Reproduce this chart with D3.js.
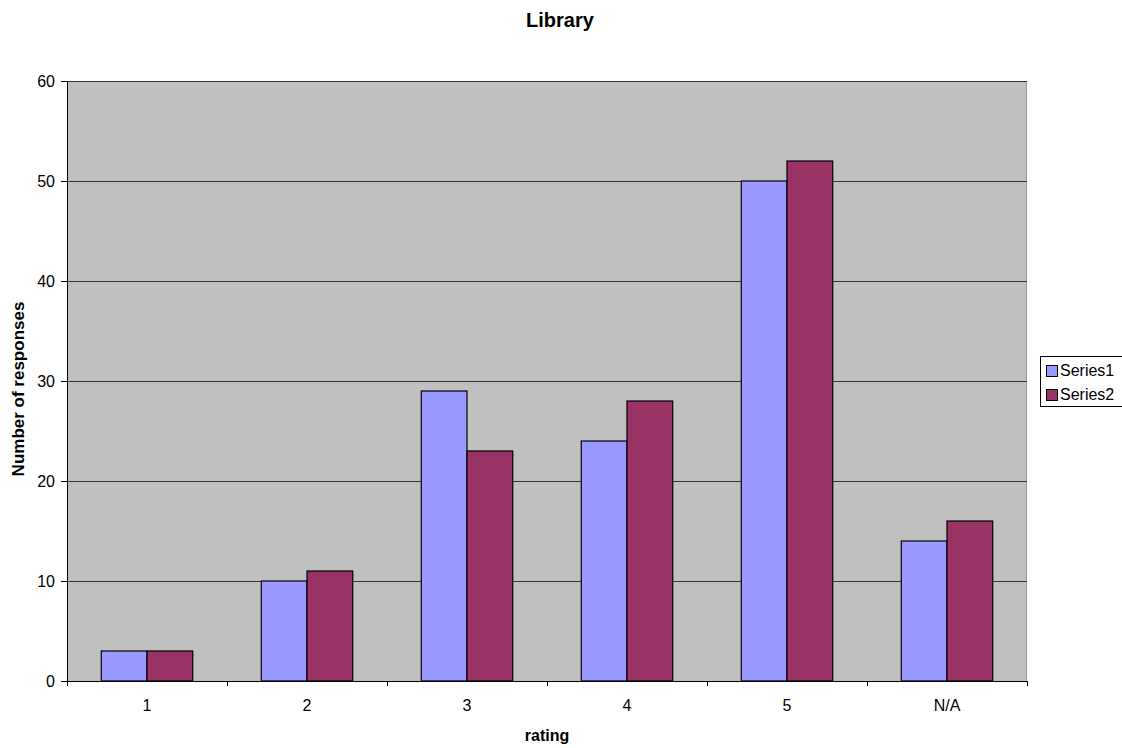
<!DOCTYPE html>
<html><head><meta charset="utf-8">
<script src="https://cdn.jsdelivr.net/npm/d3@7"></script>
<style>body{margin:0;background:#fff}svg{display:block;font-family:Arial,"Liberation Sans",sans-serif}</style>
</head><body><svg id="c" width="1122" height="748"></svg>
<script>
const categories = ["1","2","3","4","5","N/A"];
const seriesNames = ["Series1","Series2"];
const series1 = [3,10,29,24,50,14];
const series2 = [3,11,23,28,52,16];
const yTicks = [0,10,20,30,40,50,60];
const colors = ["#9999FF","#993366"];
const FONT = "Arial, 'Liberation Sans', sans-serif";

const svg = d3.select("#c");
const L=67, R=1027, T=81, B=681;
const x = d3.scaleBand().domain(categories).range([L,R]).paddingInner(0).paddingOuter(0);
const y = d3.scaleLinear().domain([0,60]).range([B,T]);
const bw = x.bandwidth()/3.5;
const xs = d3.scaleBand().domain(seriesNames).range([0,bw*2]);

svg.append("rect").attr("x",L).attr("y",T).attr("width",R-L).attr("height",B-T).attr("fill","#C0C0C0");
svg.append("line").attr("x1",R-0.5).attr("x2",R-0.5).attr("y1",T).attr("y2",B).attr("stroke","#999");
svg.append("g").selectAll("line").data(yTicks.filter(d=>d>0)).join("line")
 .attr("x1",L).attr("x2",R).attr("y1",d=>Math.round(y(d))+0.5).attr("y2",d=>Math.round(y(d))+0.5)
 .attr("stroke","#333").attr("stroke-width",1);

const data = [series1, series2];
seriesNames.forEach((s,si)=>{
  svg.append("g").selectAll("rect").data(categories).join("rect")
   .attr("x",(c)=>x(c)+bw*0.75+xs(s))
   .attr("y",(c,i)=>y(data[si][i]))
   .attr("width",xs.bandwidth())
   .attr("height",(c,i)=>B-y(data[si][i]))
   .attr("fill",colors[si]).attr("stroke","#000").attr("stroke-width",1.2);
});

const ya = svg.append("g").attr("transform",`translate(${L},0)`)
 .call(d3.axisLeft(y).tickValues(yTicks).tickSize(6).tickPadding(6).tickFormat(d3.format("d")));
ya.attr("font-size",16).attr("font-family",FONT);
ya.select(".domain").attr("stroke","#000");
ya.selectAll("text").attr("fill","#000").attr("dy","0.36em");

const xa = svg.append("g").attr("transform",`translate(0,${B})`)
 .call(d3.axisBottom(x).tickSize(0).tickPadding(0));
xa.attr("font-size",16).attr("font-family",FONT);
xa.select(".domain").attr("stroke","#000").attr("d",`M${L},0.5H${R}`);
xa.selectAll("text").attr("fill","#000").attr("dy",null).attr("y",30);
svg.append("g").selectAll("line").data(d3.range(categories.length+1)).join("line")
 .attr("x1",i=>L+i*x.bandwidth()+0.5).attr("x2",i=>L+i*x.bandwidth()+0.5)
 .attr("y1",B).attr("y2",B+5).attr("stroke","#000");

svg.append("text").attr("x",560).attr("y",27).attr("text-anchor","middle").attr("font-weight","bold").attr("font-size",20).text("Library");
svg.append("text").attr("x",547).attr("y",741).attr("text-anchor","middle").attr("font-weight","bold").attr("font-size",16).text("rating");
svg.append("text").attr("transform","translate(24,389) rotate(-90)").attr("text-anchor","middle").attr("font-weight","bold").attr("font-size",17).text("Number of responses");

const lg = svg.append("g").attr("font-family",FONT);
lg.append("rect").attr("x",1040.5).attr("y",356.5).attr("width",82).attr("height",50).attr("fill","#fff").attr("stroke","#000");
seriesNames.forEach((s,i)=>{
  lg.append("rect").attr("x",1046.5).attr("y",365.5+i*24).attr("width",11).attr("height",11).attr("fill",colors[i]).attr("stroke","#000");
  lg.append("text").attr("x",1060).attr("y",376+i*24).attr("font-size",16).text(s);
});
</script></body></html>
